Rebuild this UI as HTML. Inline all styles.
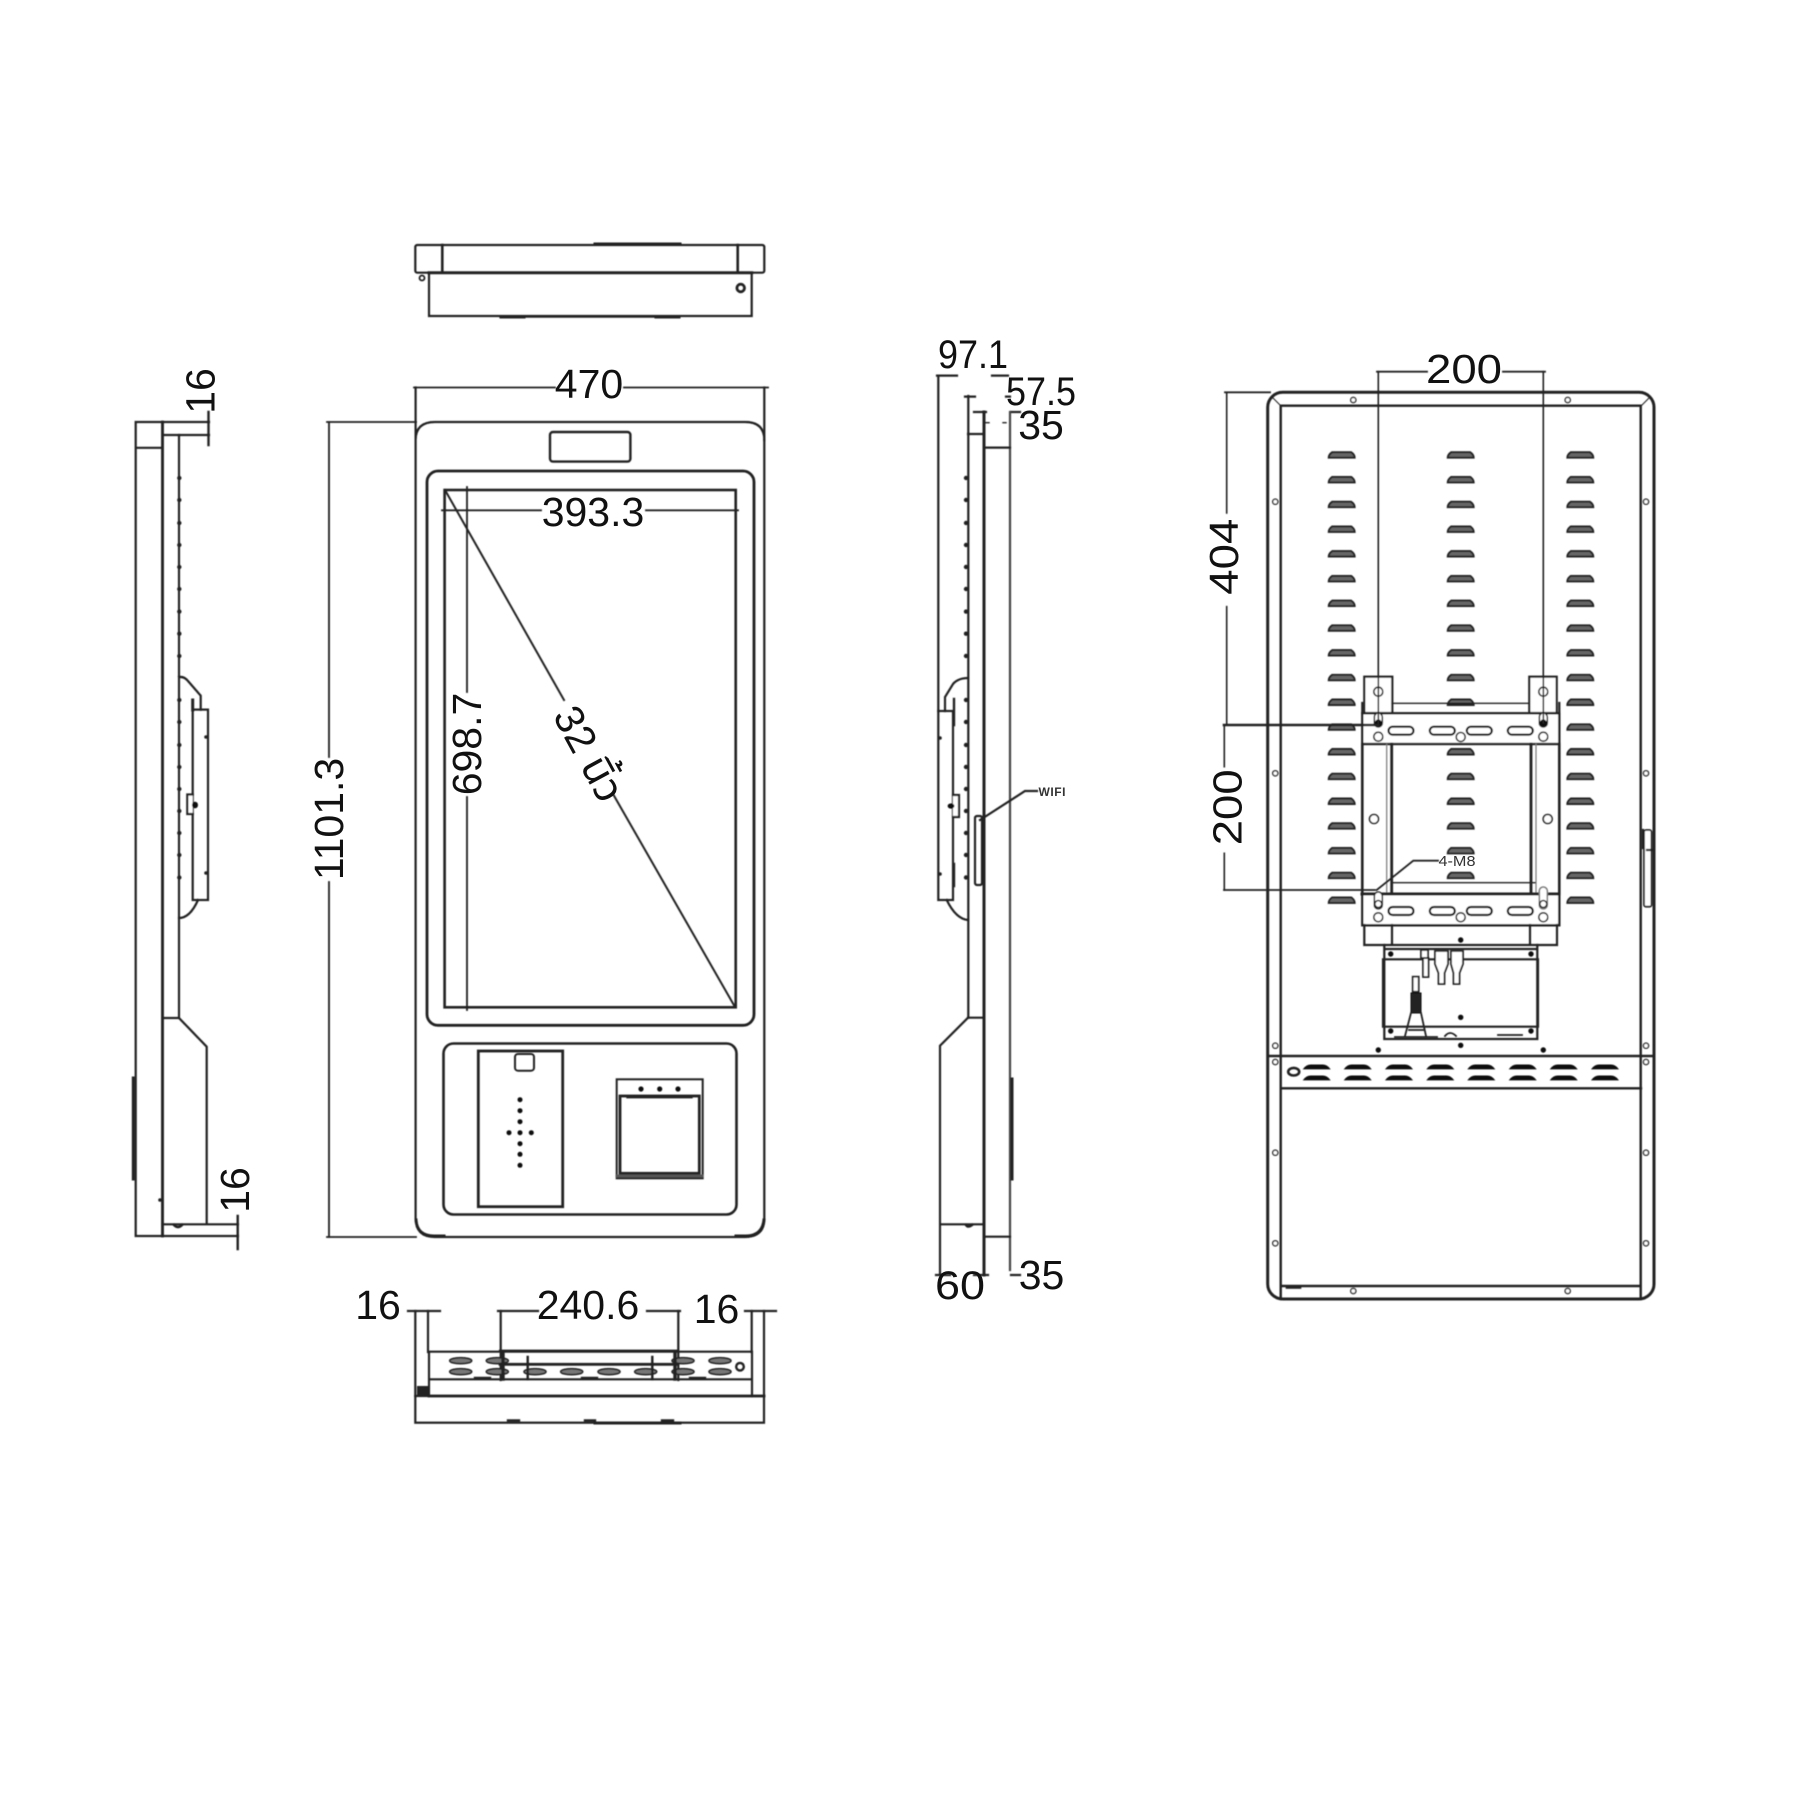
<!DOCTYPE html>
<html><head><meta charset="utf-8"><title>Kiosk dimensions</title>
<style>html,body{margin:0;padding:0;background:#fff}svg{display:block}
text{font-family:"Liberation Sans","Noto Sans Thai","DejaVu Sans",sans-serif;font-size:41px;fill:#111;text-anchor:middle}</style></head>
<body>
<svg xmlns="http://www.w3.org/2000/svg" width="1800" height="1800" viewBox="0 0 1800 1800">
<defs>
<filter id="b" x="0" y="0" width="1800" height="1800" filterUnits="userSpaceOnUse"><feGaussianBlur stdDeviation="0.4"/></filter>
<g id="v"><path d="M-13 3Q-13 0-9.500-2.500H9.500Q13 0 13 3Z" fill="#666" stroke="#222" stroke-width="1.900"/></g>
<g id="col">
<use href="#v" y="454.700"/><use href="#v" y="479.400"/><use href="#v" y="504.200"/><use href="#v" y="528.900"/><use href="#v" y="553.600"/><use href="#v" y="578.400"/><use href="#v" y="603.100"/><use href="#v" y="627.800"/><use href="#v" y="652.600"/><use href="#v" y="677.300"/><use href="#v" y="702"/><use href="#v" y="726.800"/><use href="#v" y="751.500"/><use href="#v" y="776.200"/><use href="#v" y="801"/><use href="#v" y="825.700"/><use href="#v" y="850.400"/><use href="#v" y="875.200"/><use href="#v" y="899.900"/>
</g>
<g id="dots" fill="#222" stroke="none">
<circle cy="478" r="2.200"/><circle cy="500" r="2.200"/><circle cy="523" r="2.200"/><circle cy="545" r="2.200"/><circle cy="567" r="2.200"/><circle cy="589" r="2.200"/><circle cy="611.600" r="2.200"/><circle cy="633.700" r="2.200"/><circle cy="656" r="2.200"/><circle cy="700" r="2.200"/><circle cy="722" r="2.200"/><circle cy="745" r="2.200"/><circle cy="767" r="2.200"/><circle cy="789" r="2.200"/><circle cy="811" r="2.200"/><circle cy="833" r="2.200"/><circle cy="855" r="2.200"/><circle cy="877.500" r="2.200"/>
</g>
<g id="hs"><circle r="2.600" fill="#fff" stroke="#333" stroke-width="1.500"/></g>
<g id="ps"><rect x="-12.500" y="-4" width="25" height="8" rx="4" fill="#fff" stroke="#111" stroke-width="2.200"/></g>
<g id="bs"><path d="M-13 2.200Q-10-1.700-6-1.700H6Q10-1.700 13 2.200Z" fill="#111" stroke="#111" stroke-width="1"/></g>
<g id="os"><ellipse rx="11" ry="3" fill="#777" stroke="#222" stroke-width="1.600"/></g>
</defs>

<g filter="url(#b)" fill="none" stroke="#222" stroke-width="2.200" stroke-linecap="square">
<!-- TOP VIEW -->
<rect x="415.300" y="245" width="349" height="27.700" rx="2"/>
<path d="M442.300 245V272.700M737.700 245V272.700" stroke-width="2.600"/>
<path d="M429 272.700H751.700" stroke-width="3"/>
<path d="M429 272.700V316H751.700V272.700"/>
<path d="M595 244H680" stroke-width="3"/>
<path d="M500.700 316.500H679" stroke-width="2.600"/>
<path d="M501 317H524M656 317H679" stroke-width="3"/>
<circle cx="740.700" cy="288" r="3.800" stroke-width="2.800"/>
<circle cx="422" cy="278" r="2.500" stroke-width="1.800"/>

<!-- FRONT VIEW -->
<path d="M415.600 387.500V440Q415.600 422 435 422H745Q764.300 422 764.300 440V1218Q764.300 1237 745 1237H435Q415.600 1237 415.600 1218V440"/>
<path d="M764.300 387.500V440" />
<path d="M414 387.500H555M624 387.500H768" stroke-width="1.800"/>
<rect x="550" y="432" width="80.400" height="29.600" rx="3" stroke-width="2.400"/>
<rect x="427" y="471" width="327" height="554.300" rx="11" stroke-width="2.800"/>
<rect x="444.600" y="490" width="291.100" height="517.300" stroke-width="2.600"/>
<path d="M442 510.300H541M646 510.300H738" stroke-width="1.800"/>
<path d="M467 487V692M467 797V1010" stroke-width="1.800"/>
<path d="M445 490L564 700M613 794L735 1007" stroke-width="2"/>
<path d="M329 422V757M329 882V1237" stroke-width="1.800"/>
<path d="M327 422H416M327 1237H416" stroke-width="1.800"/>
<path d="M416 1220Q417 1236 434 1236H444M764 1220Q763 1236 746 1236H736" stroke-width="3"/>

<rect x="443.500" y="1043.500" width="293" height="171" rx="10" stroke-width="2.600"/>
<rect x="478.300" y="1051" width="84.400" height="155.700" stroke-width="2.800"/>
<rect x="515" y="1054" width="19" height="16.700" rx="3" stroke-width="2"/>
<g fill="#111" stroke="none">
<circle cx="520" cy="1099.700" r="2.500"/><circle cx="520" cy="1110.700" r="2.500"/><circle cx="520" cy="1121.700" r="2.500"/><circle cx="520" cy="1132.700" r="2.500"/><circle cx="520" cy="1143.700" r="2.500"/><circle cx="520" cy="1154.300" r="2.500"/><circle cx="520" cy="1165.300" r="2.500"/><circle cx="509" cy="1132.700" r="2.500"/><circle cx="531.300" cy="1132.700" r="2.500"/>
<circle cx="641" cy="1089" r="2.600"/><circle cx="659.700" cy="1089" r="2.600"/><circle cx="678" cy="1089" r="2.600"/>
</g>
<rect x="616.700" y="1079.300" width="86" height="99" stroke-width="2"/>
<rect x="620" y="1096" width="79.300" height="77.300" stroke-width="2.800"/>
<path d="M628 1096.700H691" stroke-width="3.400"/>
<path d="M617 1176H702" stroke-width="3" stroke="#555"/>

<!-- LEFT SIDE VIEW -->
<path d="M135.700 1236V422H209M162.500 422V1236M162.500 435H209M136 447.800H162M135.700 1236H238"/>
<path d="M162.500 422V1236" stroke-width="2.800"/>
<path d="M179 435V1018M162.500 1018H179L206.700 1046.700V1224.300M162.500 1224.300H238"/>
<path d="M208.500 412V445M237.700 1216V1249" stroke-width="2.400"/>
<use href="#dots" x="179.300"/>
<path d="M179 677Q184 676 188 681L200.700 695.700V709.600"/>
<rect x="192.700" y="709.600" width="15.300" height="190.400"/>
<path d="M192.700 700V710" stroke-width="3"/>
<path d="M192.700 794.500H187.300V814H192.700" fill="#fff"/>
<ellipse cx="195" cy="805" rx="3" ry="3.300" fill="#111" stroke="none"/>
<path d="M198 900Q190 918 179 918"/>
<circle cx="206" cy="737" r="1.800" fill="#222" stroke="none"/><circle cx="206" cy="873" r="1.800" fill="#222" stroke="none"/>
<path d="M133.300 1078V1179" stroke-width="3"/>
<path d="M174 1225Q178 1229 182 1225" stroke-width="2.600"/>
<circle cx="160" cy="1200" r="1.800" fill="#222" stroke="none"/>

<!-- MIDDLE SIDE VIEW -->
<path d="M937 375.600H957M992 375.600H1008" stroke-width="2.200"/>
<path d="M965 396.600H975M1006 396.600H1010" stroke-width="2.200"/>
<path d="M974 412H986M1011 412H1020" stroke-width="2.200"/>
<path d="M986 422.700H1010" stroke-width="1.400" stroke-dasharray="3 14"/>
<path d="M938.300 376V711"/>
<path d="M968.300 396V1017.700"/>
<path d="M984 412V1275" stroke-width="3"/>
<path d="M1010 412V1270" stroke="#444"/>
<path d="M968 434H984M984 447.600H1010M984 1236.700H1010"/>
<use href="#dots" x="966"/>
<path d="M968 678Q958 678 953 684L945 697V711"/>
<rect x="938.300" y="711" width="14.700" height="189"/>
<path d="M953 795H959V817H953" fill="#fff"/>
<path d="M954 699V725M954 864V886" stroke-width="2.400"/>
<ellipse cx="951" cy="806" rx="3.400" ry="2.600" fill="#111" stroke="none"/>
<circle cx="940" cy="738" r="1.800" fill="#222" stroke="none"/><circle cx="940" cy="874" r="1.800" fill="#222" stroke="none"/>
<path d="M946.700 900Q956 919 968 920"/>
<path d="M968 1017.700H984M968 1017.700L940 1045.700V1275M940 1224.300H984"/>
<path d="M1012 1079V1179" stroke-width="3"/>
<rect x="975" y="816" width="7" height="69" rx="2"/>
<path d="M980 820L1025 791H1037"/>
<path d="M936 1275H950M974 1275H988M1011 1275H1020" stroke-width="2.200"/>
<path d="M966 1225Q968 1228 972 1225" stroke-width="2.600"/>

<!-- BOTTOM VIEW -->
<rect x="415.300" y="1396" width="348.700" height="26.700"/>
<path d="M429 1396H764" stroke-width="2.800"/>
<path d="M429 1351.700H752V1396M429 1351.700V1396M429 1379.300H752"/>
<path d="M415.300 1311V1396M428 1311V1352M751.700 1311V1352M764 1311V1396"/>
<path d="M408 1311H440M745 1311H776M498 1311H538M647 1311H680" stroke-width="2.200"/>
<path d="M500.700 1311V1380M678.300 1311V1380"/>
<path d="M500 1350.700H678" />
<g><use href="#os" x="460.700" y="1360.700"/><use href="#os" x="497.300" y="1360.700"/><use href="#os" x="683" y="1360.700"/><use href="#os" x="720" y="1360.700"/>
<use href="#os" x="460.700" y="1371.700"/><use href="#os" x="497.300" y="1371.700"/><use href="#os" x="535" y="1371.700"/><use href="#os" x="571.700" y="1371.700"/><use href="#os" x="609" y="1371.700"/><use href="#os" x="645.700" y="1371.700"/><use href="#os" x="683" y="1371.700"/><use href="#os" x="720" y="1371.700"/></g>
<path d="M500 1364.300H678" stroke-width="2.800"/>
<path d="M503 1352V1379M675 1352V1379" stroke-width="3.400"/>
<path d="M527.700 1357V1379M652.300 1357V1379" stroke-width="2.400"/>
<circle cx="740" cy="1366.700" r="3.800" stroke-width="2.400"/>
<rect x="417" y="1386" width="11" height="10" fill="#222" stroke="none"/>
<path d="M595 1423H680" stroke-width="3"/>
<path d="M508 1420.500H519M585 1420.500H595M662 1420.500H673M475 1378H490M582 1378H597M690 1378H705" stroke-width="2.400"/>

<!-- BACK VIEW -->
<rect x="1267.700" y="392.300" width="386.300" height="906.700" rx="15" stroke-width="3"/>
<path d="M1280.700 405.700H1640.700M1280.700 405.700V1299M1640.700 405.700V1299M1280.700 1286H1640.700" stroke-width="2.400"/>
<path d="M1272 397L1281 406M1650 397L1641 406" stroke-width="1"/>
<path d="M1268 1056H1654M1281 1088.300H1641" stroke-width="2.400"/>
<g>
<use href="#hs" x="1353.300" y="400"/><use href="#hs" x="1567.700" y="400"/><use href="#hs" x="1353.300" y="1291"/><use href="#hs" x="1567.700" y="1291"/>
<use href="#hs" x="1275.300" y="501.700"/><use href="#hs" x="1275.300" y="773.300"/><use href="#hs" x="1275.300" y="1045.700"/><use href="#hs" x="1275.300" y="1062"/><use href="#hs" x="1275.300" y="1152.700"/><use href="#hs" x="1275.300" y="1243.300"/>
<use href="#hs" x="1646" y="501.700"/><use href="#hs" x="1646" y="773.300"/><use href="#hs" x="1646" y="1045.700"/><use href="#hs" x="1646" y="1062"/><use href="#hs" x="1646" y="1152.700"/><use href="#hs" x="1646" y="1243.300"/>
</g>
<use href="#col" x="1341.700"/><use href="#col" x="1460.700"/><use href="#col" x="1580.300"/>

<!-- brackets -->
<rect x="1364.300" y="676.700" width="28" height="36.300" fill="#fff" stroke-width="2.200"/>
<rect x="1529.300" y="676.700" width="27.400" height="36.300" fill="#fff" stroke-width="2.200"/>
<path d="M1392 703.300H1529" stroke-width="1.400" fill="none"/>
<path d="M1362.300 703V713M1559.300 703V713"/>
<rect x="1362.300" y="713.300" width="197" height="30.700" fill="#fff" stroke-width="2.400"/>
<rect x="1362.300" y="894" width="197" height="31.300" fill="#fff" stroke-width="2.400"/>
<path d="M1362.300 744V894M1559.300 744V894" stroke-width="2.600"/>
<path d="M1386.700 744V894M1536 744V894" stroke-width="1.200" stroke="#777"/>
<path d="M1391.700 744V894M1531 744V894" stroke-width="2.800"/>
<path d="M1392 882.700H1535" stroke-width="1.400"/>
<path d="M1362 894H1559" stroke-width="3"/>
<g><use href="#ps" x="1401" y="730.700"/><use href="#ps" x="1442.300" y="730.700"/><use href="#ps" x="1479.300" y="730.700"/><use href="#ps" x="1520.300" y="730.700"/><use href="#ps" x="1401" y="911"/><use href="#ps" x="1442.300" y="911"/><use href="#ps" x="1479.300" y="911"/><use href="#ps" x="1520.300" y="911"/></g>
<g stroke-width="1.600" fill="#fff">
<rect x="1374.300" y="713" width="8" height="14" rx="4"/><rect x="1539.300" y="713" width="8" height="14" rx="4"/>
<rect x="1374.300" y="892" width="8" height="17" rx="4"/><rect x="1539.300" y="887" width="8" height="22" rx="4" stroke="#777"/>
<circle cx="1460.700" cy="737" r="4.500"/><circle cx="1460.700" cy="917.300" r="4.500"/>
<circle cx="1378.300" cy="736.700" r="4.500"/><circle cx="1543.300" cy="736.700" r="4.500"/>
<circle cx="1378.300" cy="917.300" r="4.500"/><circle cx="1543.300" cy="917.300" r="4.500"/>
<circle cx="1378.300" cy="691.700" r="4.500"/><circle cx="1543.300" cy="691.700" r="4.500"/>
<circle cx="1374" cy="819" r="4.500"/><circle cx="1547.700" cy="819" r="4.500"/>
<circle cx="1378.300" cy="904" r="3.500"/><circle cx="1543.300" cy="904" r="3.500"/>
</g>
<circle cx="1378.300" cy="723" r="3.600" fill="#111" stroke="none"/><circle cx="1543.300" cy="723" r="3.600" fill="#111" stroke="none"/>
<path d="M1364.300 925V945H1392V925M1530 925V945H1557V925M1392 945H1530" stroke-width="2.200"/>
<!-- electrical box -->
<path d="M1384.300 945V1039H1537.300V945M1384.300 949H1537.300M1383 959.300H1538M1383 959.300V1026.700H1538V959.300" stroke-width="2.200"/>
<g fill="#111" stroke="none">
<circle cx="1460.700" cy="940" r="2.700"/><circle cx="1390.700" cy="954" r="2.700"/><circle cx="1531" cy="954" r="2.700"/><circle cx="1390.700" cy="1031" r="2.700"/><circle cx="1531" cy="1031" r="2.700"/><circle cx="1460.700" cy="1017.300" r="2.700"/><circle cx="1460.700" cy="1045.300" r="2.700"/><circle cx="1378.300" cy="1050" r="2.700"/><circle cx="1543.300" cy="1050" r="2.700"/>
</g>
<g stroke-width="1.800" fill="#fff">
<rect x="1423" y="958" width="5.500" height="19"/><rect x="1421" y="950" width="7" height="8"/>
<path d="M1435 951H1448V964L1444.500 973V984H1438.500V973L1435 964Z"/>
<path d="M1451 951H1463V964L1459.500 973V984H1453.500V973L1451 964Z"/>
<rect x="1412.700" y="976.700" width="6" height="15"/>
</g>
<path d="M1411 993H1421V1013H1411Z" fill="#222" stroke="#111" stroke-width="1"/>
<path d="M1411 1013L1405 1036M1421 1013L1426 1036M1395 1037H1437M1409 1030H1423" stroke-width="1.800"/>
<path d="M1445 1036Q1450 1030 1456 1036M1498 1035H1522" stroke-width="1.800"/>
<!-- back dims -->
<path d="M1378.300 371.700V723M1543.300 371.700V723" stroke-width="1.600"/>
<path d="M1377 371.700H1427M1503 371.700H1545" stroke-width="1.800"/>
<path d="M1226.700 392.300V513M1226.700 606.700V725" stroke-width="1.600"/>
<path d="M1225 392.300H1270" stroke-width="1.800"/>
<path d="M1224 725H1378" stroke-width="2.600"/>
<path d="M1224.300 725V766.700M1224.300 853.300V890" stroke-width="1.600"/>
<path d="M1224 890H1375" stroke-width="1.800"/>
<path d="M1376.700 890L1413.300 860.700H1438" stroke-width="1.800"/>
<rect x="1644" y="830" width="7.500" height="76.700" rx="2" fill="#fff" stroke-width="1.800"/>
<path d="M1643 830V848M1647 850H1652" stroke-width="2.200"/>
<!-- back band -->
<ellipse cx="1293.700" cy="1071.700" rx="5.500" ry="3.800" stroke-width="2.600"/>
<g>
<use href="#bs" x="1316.700" y="1066.700"/><use href="#bs" x="1357.700" y="1066.700"/><use href="#bs" x="1399" y="1066.700"/><use href="#bs" x="1440.300" y="1066.700"/><use href="#bs" x="1481.300" y="1066.700"/><use href="#bs" x="1522.700" y="1066.700"/><use href="#bs" x="1563.700" y="1066.700"/><use href="#bs" x="1605" y="1066.700"/>
<use href="#bs" x="1316.700" y="1077.700"/><use href="#bs" x="1357.700" y="1077.700"/><use href="#bs" x="1399" y="1077.700"/><use href="#bs" x="1440.300" y="1077.700"/><use href="#bs" x="1481.300" y="1077.700"/><use href="#bs" x="1522.700" y="1077.700"/><use href="#bs" x="1563.700" y="1077.700"/><use href="#bs" x="1605" y="1077.700"/>
</g>
<path d="M1287 1287.500H1300" stroke-width="2.600"/>
</g>

<!-- LABELS -->
<text x="589" y="398">470</text>
<text x="593" y="526">393.3</text>
<text transform="translate(467 744) rotate(-90)" y="14">698.7</text>
<text transform="translate(329 819) rotate(-90)" y="14">1101.3</text>
<text transform="translate(589 754) rotate(61.500)" y="14">32 นิ้ว</text>
<text transform="translate(200.500 391) rotate(-90)" y="14">16</text>
<text transform="translate(235 1190) rotate(-90)" y="14">16</text>
<text x="378" y="1319">16</text>
<text x="588" y="1319">240.6</text>
<text x="716.500" y="1323">16</text>
<text x="973" y="368" style="font-size:40px" textLength="70" lengthAdjust="spacingAndGlyphs">97.1</text>
<text x="1041" y="405" style="font-size:40px" textLength="70" lengthAdjust="spacingAndGlyphs">57.5</text>
<text x="1041" y="439">35</text>
<text x="960" y="1299" style="font-size:40px" textLength="50" lengthAdjust="spacingAndGlyphs">60</text>
<text x="1041.500" y="1289">35</text>
<text x="1464" y="383" style="font-size:41px" textLength="76" lengthAdjust="spacingAndGlyphs">200</text>
<text transform="translate(1223 556.700) rotate(-90)" y="15" style="font-size:41px" textLength="76" lengthAdjust="spacingAndGlyphs">404</text>
<text transform="translate(1226.700 807.300) rotate(-90)" y="15" style="font-size:41px" textLength="76" lengthAdjust="spacingAndGlyphs">200</text>
<text x="1052" y="796" style="font-size:12px;font-weight:700;fill:#333" textLength="27">WIFI</text>
<text x="1457" y="866" style="font-size:15px;fill:#333" textLength="37" lengthAdjust="spacingAndGlyphs">4-M8</text>
</svg>
</body></html>
